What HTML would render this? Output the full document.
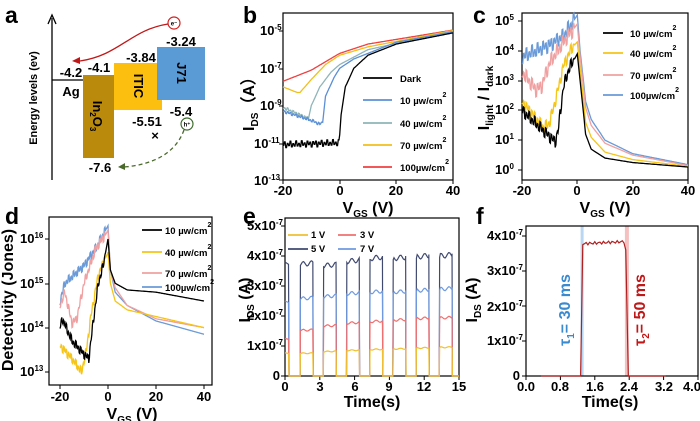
<!DOCTYPE html>
<html><head><meta charset="utf-8"><style>
html,body{margin:0;padding:0;background:#fff}
svg{display:block}
text{font-family:"Liberation Sans",Arial,sans-serif;font-weight:bold;fill:#000}
.t{font-size:13px}
.lg{font-size:9.5px}
.al{font-size:16px}
.pl{font-size:23px}
</style></head><body>
<svg id="s" width="700" height="421" viewBox="0 0 700 421" xmlns="http://www.w3.org/2000/svg">
<text class="pl" x="5" y="23">a</text>
<text class="pl" x="243" y="23">b</text>
<text class="pl" x="473" y="23">c</text>
<text class="pl" x="5" y="224">d</text>
<text class="pl" x="243" y="224">e</text>
<text class="pl" x="476" y="224">f</text>

<line x1="52" y1="180" x2="52" y2="18" stroke="#000" stroke-width="1.3"/>
<path d="M48,24 L52,15 L56,24" fill="none" stroke="#000" stroke-width="1.3"/>
<text class="t" transform="translate(37,98) rotate(-90)" text-anchor="middle" style="font-size:11px">Energy levels (ev)</text>
<line x1="52" y1="80" x2="84" y2="80" stroke="#000" stroke-width="1.2"/>
<rect x="83" y="75" width="31" height="83" fill="#b98a0c"/>
<rect x="114" y="63" width="48" height="47" fill="#fdbf0f"/>
<rect x="157" y="47" width="48" height="53" fill="#5b9bd5"/>
<text class="t" transform="translate(93,116) rotate(90)" text-anchor="middle">In<tspan font-size="8" dy="3">2</tspan><tspan dy="-3">O</tspan><tspan font-size="8" dy="3">3</tspan></text>
<text class="t" transform="translate(134,86) rotate(90)" text-anchor="middle">ITIC</text>
<text class="t" transform="translate(177,73) rotate(90)" text-anchor="middle">J71</text>
<text class="t" x="71" y="77" text-anchor="middle">-4.2</text>
<text class="t" x="71" y="96" text-anchor="middle">Ag</text>
<text class="t" x="99" y="72" text-anchor="middle">-4.1</text>
<text class="t" x="141" y="62" text-anchor="middle">-3.84</text>
<text class="t" x="181" y="46" text-anchor="middle">-3.24</text>
<text class="t" x="147" y="126" text-anchor="middle">-5.51</text>
<text class="t" x="181" y="116" text-anchor="middle">-5.4</text>
<text class="t" x="100" y="172" text-anchor="middle">-7.6</text>
<text class="t" x="155" y="140" text-anchor="middle">×</text>
<circle cx="174" cy="23" r="6" fill="#fff" stroke="#d02020" stroke-width="1.2"/>
<text x="174" y="25.5" text-anchor="middle" style="font-size:6px">e⁻</text>
<path d="M168,24 C130,30 120,55 80,61" fill="none" stroke="#c01818" stroke-width="1.3"/>
<path d="M80,57 L72,61 L80,64 Z" fill="#c01818"/>
<circle cx="187" cy="124" r="6" fill="#fff" stroke="#3a6a2a" stroke-width="1.2"/>
<text x="187" y="126.5" text-anchor="middle" style="font-size:6px">h⁺</text>
<path d="M184,130 C175,155 150,165 124,167" fill="none" stroke="#4a6a2a" stroke-width="1.3" stroke-dasharray="4,3"/>
<path d="M125,163 L118,167 L125,170 Z" fill="#4a6a2a"/>

<g id="plots"></g>

<text class="t" x="260" y="35">10<tspan font-size="8" dy="-5">-5</tspan></text>
<text class="t" x="260" y="73">10<tspan font-size="8" dy="-5">-7</tspan></text>
<text class="t" x="260" y="110">10<tspan font-size="8" dy="-5">-9</tspan></text>
<text class="t" x="254" y="148">10<tspan font-size="8" dy="-5">-11</tspan></text>
<text class="t" x="254" y="185">10<tspan font-size="8" dy="-5">-13</tspan></text>
<text class="t" x="283" y="195" text-anchor="middle">-20</text>
<text class="t" x="340" y="195" text-anchor="middle">0</text>
<text class="t" x="396" y="195" text-anchor="middle">20</text>
<text class="t" x="453" y="195" text-anchor="middle">40</text>
<text class="al" x="368" y="213" text-anchor="middle">V<tspan font-size="10" dy="4">GS</tspan><tspan dy="-4"> (V)</tspan></text>
<text class="al" transform="translate(254,100) rotate(-90)" text-anchor="middle">I<tspan font-size="10" dy="4">DS</tspan><tspan dy="-4">（A）</tspan></text>
<text class="lg" x="400" y="82">Dark</text>
<text class="lg" x="400" y="104">10 µw/cm<tspan font-size="7" dy="-7">2</tspan></text>
<text class="lg" x="400" y="127">40 µw/cm<tspan font-size="7" dy="-7">2</tspan></text>
<text class="lg" x="400" y="149">70 µw/cm<tspan font-size="7" dy="-7">2</tspan></text>
<text class="lg" x="400" y="171">100µw/cm<tspan font-size="7" dy="-7">2</tspan></text>

<text class="t" x="495" y="25">10<tspan font-size="8" dy="-5">5</tspan></text>
<text class="t" x="495" y="55">10<tspan font-size="8" dy="-5">4</tspan></text>
<text class="t" x="495" y="85">10<tspan font-size="8" dy="-5">3</tspan></text>
<text class="t" x="495" y="114">10<tspan font-size="8" dy="-5">2</tspan></text>
<text class="t" x="495" y="144">10<tspan font-size="8" dy="-5">1</tspan></text>
<text class="t" x="495" y="174">10<tspan font-size="8" dy="-5">0</tspan></text>
<text class="t" x="522" y="195" text-anchor="middle">-20</text>
<text class="t" x="577" y="195" text-anchor="middle">0</text>
<text class="t" x="633" y="195" text-anchor="middle">20</text>
<text class="t" x="688" y="195" text-anchor="middle">40</text>
<text class="al" x="605" y="213" text-anchor="middle">V<tspan font-size="10" dy="4">GS</tspan><tspan dy="-4"> (V)</tspan></text>
<text class="al" transform="translate(489,98) rotate(-90)" text-anchor="middle">I<tspan font-size="10" dy="4">light</tspan><tspan dy="-4"> / I</tspan><tspan font-size="10" dy="4">dark</tspan></text>
<text class="lg" x="630" y="37">10 µw/cm<tspan font-size="7" dy="-7">2</tspan></text>
<text class="lg" x="630" y="57">40 µw/cm<tspan font-size="7" dy="-7">2</tspan></text>
<text class="lg" x="630" y="79">70 µw/cm<tspan font-size="7" dy="-7">2</tspan></text>
<text class="lg" x="630" y="99">100µw/cm<tspan font-size="7" dy="-7">2</tspan></text>

<text class="t" x="20" y="243">10<tspan font-size="8" dy="-5">16</tspan></text>
<text class="t" x="20" y="288">10<tspan font-size="8" dy="-5">15</tspan></text>
<text class="t" x="20" y="332">10<tspan font-size="8" dy="-5">14</tspan></text>
<text class="t" x="20" y="376">10<tspan font-size="8" dy="-5">13</tspan></text>
<text class="t" x="60" y="401" text-anchor="middle">-20</text>
<text class="t" x="108" y="401" text-anchor="middle">0</text>
<text class="t" x="156" y="401" text-anchor="middle">20</text>
<text class="t" x="204" y="401" text-anchor="middle">40</text>
<text class="al" x="132" y="419" text-anchor="middle">V<tspan font-size="10" dy="4">GS</tspan><tspan dy="-4"> (V)</tspan></text>
<text class="al" transform="translate(13,300) rotate(-90)" text-anchor="middle">Detectivity (Jones)</text>
<text class="lg" x="165" y="234">10 µw/cm<tspan font-size="7" dy="-7">2</tspan></text>
<text class="lg" x="165" y="256">40 µw/cm<tspan font-size="7" dy="-7">2</tspan></text>
<text class="lg" x="165" y="277">70 µw/cm<tspan font-size="7" dy="-7">2</tspan></text>
<text class="lg" x="165" y="291">100µw/cm<tspan font-size="7" dy="-7">2</tspan></text>

<text class="t" x="283" y="230" text-anchor="end">5x10<tspan font-size="8" dy="-5">-7</tspan></text>
<text class="t" x="283" y="260" text-anchor="end">4x10<tspan font-size="8" dy="-5">-7</tspan></text>
<text class="t" x="283" y="290" text-anchor="end">3x10<tspan font-size="8" dy="-5">-7</tspan></text>
<text class="t" x="283" y="320" text-anchor="end">2x10<tspan font-size="8" dy="-5">-7</tspan></text>
<text class="t" x="283" y="350" text-anchor="end">1x10<tspan font-size="8" dy="-5">-7</tspan></text>
<text class="t" x="280" y="380" text-anchor="end">0</text>
<text class="t" x="285" y="391" text-anchor="middle">0</text>
<text class="t" x="320" y="391" text-anchor="middle">3</text>
<text class="t" x="355" y="391" text-anchor="middle">6</text>
<text class="t" x="389" y="391" text-anchor="middle">9</text>
<text class="t" x="424" y="391" text-anchor="middle">12</text>
<text class="t" x="459" y="391" text-anchor="middle">15</text>
<text class="al" x="372" y="407" text-anchor="middle">Time(s)</text>
<text class="al" transform="translate(250,300) rotate(-90)" text-anchor="middle">I<tspan font-size="10" dy="4">DS</tspan><tspan dy="-4"> (A)</tspan></text>
<text class="lg" x="311" y="238">1 V</text>
<text class="lg" x="360" y="238">3 V</text>
<text class="lg" x="311" y="252">5 V</text>
<text class="lg" x="360" y="252">7 V</text>

<text class="t" x="523" y="240" text-anchor="end">4x10<tspan font-size="8" dy="-5">-7</tspan></text>
<text class="t" x="523" y="275" text-anchor="end">3x10<tspan font-size="8" dy="-5">-7</tspan></text>
<text class="t" x="523" y="311" text-anchor="end">2x10<tspan font-size="8" dy="-5">-7</tspan></text>
<text class="t" x="523" y="345" text-anchor="end">1x10<tspan font-size="8" dy="-5">-7</tspan></text>
<text class="t" x="520" y="380" text-anchor="end">0</text>
<text class="t" x="526" y="391" text-anchor="middle">0.0</text>
<text class="t" x="560" y="391" text-anchor="middle">0.8</text>
<text class="t" x="595" y="391" text-anchor="middle">1.6</text>
<text class="t" x="629" y="391" text-anchor="middle">2.4</text>
<text class="t" x="664" y="391" text-anchor="middle">3.2</text>
<text class="t" x="692" y="391" text-anchor="middle">4.0</text>
<text class="al" x="610" y="407" text-anchor="middle">Time(s)</text>
<text class="al" transform="translate(477,300) rotate(-90)" text-anchor="middle">I<tspan font-size="10" dy="4">DS</tspan><tspan dy="-4"> (A)</tspan></text>
<text class="al" transform="translate(570,310) rotate(-90)" text-anchor="middle" style="fill:#3a8ad0">τ<tspan font-size="10" dy="4" style="fill:#3a8ad0">1</tspan><tspan dy="-4" style="fill:#3a8ad0">= 30 ms</tspan></text>
<text class="al" transform="translate(645,310) rotate(-90)" text-anchor="middle" style="fill:#c01818">τ<tspan font-size="10" dy="4" style="fill:#c01818">2</tspan><tspan dy="-4" style="fill:#c01818">= 50 ms</tspan></text>
</svg>
<script>
(function(){
var g=document.getElementById('plots'),NS='http://www.w3.org/2000/svg';
function el(t,a){var e=document.createElementNS(NS,t);for(var k in a)e.setAttribute(k,a[k]);g.appendChild(e);return e;}
function interp(p,v){if(v<=p[0][0])return p[0][1];for(var i=1;i<p.length;i++){if(v<=p[i][0]){var f=(v-p[i-1][0])/(p[i][0]-p[i-1][0]);return p[i-1][1]+f*(p[i][1]-p[i-1][1]);}}return p[p.length-1][1];}
function curve(p,X,Y,col,na,nend,seed,w){var d='',s=seed||1;for(var v=-20;v<=40.001;v+=0.25){var y=interp(p,v);if(na&&v<nend){var ph=Math.floor(v*2);y+=((ph%2)?na:-na)*(0.6+0.4*Math.sin(ph*1.7+s));}d+=(d?'L':'M')+X(v).toFixed(1)+','+Y(y).toFixed(1);}el('path',{d:d,fill:'none',stroke:col,'stroke-width':w||1.3});}
function box(x1,y1,x2,y2){el('rect',{x:x1,y:y1,width:x2-x1,height:y2-y1,fill:'none',stroke:'#000','stroke-width':1.2});}
function tk(x,y,dx,dy){el('line',{x1:x,y1:y,x2:x+dx,y2:y+dy,stroke:'#000','stroke-width':1});}
function leg(x1,x2,y,c){el('line',{x1:x1,y1:y,x2:x2,y2:y,stroke:c,'stroke-width':1.8});}
var Xb=function(v){return 283+(v+20)*170/60},Yb=function(l){return 31+(-5-l)*18.63};
box(283,13,453,180);[31,69,106,144,180].forEach(function(y){tk(283,y,-4,0)});[283,340,396,453].forEach(function(x){tk(x,180,0,4)});
curve([[-20,-7.7],[-10,-7.1],[0,-6.2],[10,-5.7],[40,-4.95]],Xb,Yb,'#f04040');
curve([[-20,-8.0],[-15,-8.3],[-14,-8.3],[-10,-7.6],[-5,-6.8],[0,-6.3],[10,-5.85],[40,-4.97]],Xb,Yb,'#f2bf1a');
curve([[-20,-9.1],[-11,-9.7],[-10,-9],[-7,-8],[-3,-7.2],[0,-6.8],[10,-6.0],[40,-5.0]],Xb,Yb,'#8fb5b8',0.08,-11,2);
curve([[-20,-9.3],[-10,-9.8],[-7,-10],[-6,-9.9],[-5,-8.5],[-2,-7.5],[0,-7],[5,-6.5],[20,-5.6],[40,-5.05]],Xb,Yb,'#5b8fd6',0.08,-6,3);
curve([[-20,-11.1],[-0.2,-11],[0.5,-9.5],[2,-8],[5,-7],[10,-6.3],[20,-5.7],[40,-5.1]],Xb,Yb,'#000',0.18,0,4);
leg(363,392,78,'#000');leg(363,392,100,'#5b8fd6');leg(363,392,123,'#8fb5b8');leg(363,392,145,'#f2bf1a');leg(363,392,167,'#f04040');
var Xc=function(v){return 522+(v+20)*166/60},Yc=function(l){return 170-l*29.8};
box(522,13,688,180);[21,51,81,110,140,170].forEach(function(y){tk(522,y,-4,0)});[522,577,633,688].forEach(function(x){tk(x,180,0,4)});
curve([[-20,3.8],[-15,4.0],[-10,4.2],[-5,4.5],[0,5.2],[1,4],[3,2.3],[5,1.7],[10,1.0],[20,0.55],[40,0.18]],Xc,Yc,'#6a9ad8',0.25,-1,1);
curve([[-20,3.3],[-15,2.7],[-13,2.8],[-10,3.6],[-5,4.3],[0,4.9],[1,3.8],[3,2.1],[5,1.5],[10,0.9],[20,0.5],[40,0.15]],Xc,Yc,'#f0a0a0',0.25,-1,2);
curve([[-20,2.3],[-12,1.4],[-10,1.6],[-8,2.3],[-5,3.5],[-2,4.1],[0,4.3],[1,3.4],[3,1.6],[5,1.1],[10,0.6],[20,0.35],[40,0.12]],Xc,Yc,'#f5c518',0.2,-1,3);
curve([[-20,2.0],[-12,1.3],[-8,0.95],[-7,1.3],[-5,2.8],[-3,3.4],[0,3.9],[1,3],[3,1.2],[5,0.7],[10,0.4],[20,0.25],[40,0.1]],Xc,Yc,'#000',0.2,-1,4);
leg(603,623,33,'#000');leg(603,623,53,'#f5c518');leg(603,623,75,'#f0a0a0');leg(603,623,95,'#6a9ad8');
var Xd=function(v){return 60+(v+20)*2.4},Yd=function(l){return 239+(16-l)*44.3};
box(49,217,212,385);[239,284,328,372].forEach(function(y){tk(49,y,-4,0)});[60,108,156,204].forEach(function(x){tk(x,385,0,4)});
curve([[-20,14.6],[-18,15.0],[-10,15.4],[-5,15.8],[0,16.3],[1,15.3],[3,14.8],[8,14.5],[20,14.15],[40,13.85]],Xd,Yd,'#6a9ad8',0.1,-1,1);
curve([[-20,14.5],[-18,14.8],[-15,14.1],[-13,14.2],[-10,15],[-5,15.8],[-1,16.1],[0,16.2],[1,15.3],[3,14.9],[8,14.5],[20,14.2],[40,14.0]],Xd,Yd,'#f0a0a0',0.1,-1,2);
curve([[-20,13.6],[-15,13.3],[-11,13.0],[-9,13.5],[-7,14.3],[-4,15.2],[0,15.7],[1,15],[3,14.6],[8,14.4],[20,14.25],[40,14.0]],Xd,Yd,'#f5c518',0.1,-1,3);
curve([[-20,14.0],[-19,14.2],[-15,13.7],[-10,13.4],[-8,13.3],[-6,14.2],[-4,15.0],[-2,15.4],[0,16.0],[1,15.3],[3,15.0],[8,14.85],[20,14.8],[40,14.6]],Xd,Yd,'#000',0.1,-1,4);
leg(142,162,230,'#000');leg(142,162,252,'#f5c518');leg(142,162,273,'#f0a0a0');leg(142,162,287,'#6a9ad8');
var Xe=function(t){return 285+t*11.6},Ye=function(i){return 376-i*30};
box(285,218,459,376);[226,256,286,316,346,376].forEach(function(y){tk(285,y,-4,0)});[0,3,6,9,12,15].forEach(function(t){tk(Xe(t),376,0,4)});
function pulses(levels,init,col){var d='M'+Xe(0)+','+Ye(init)+'L'+Xe(0.3)+','+Ye(init*0.98)+'L'+Xe(0.35)+','+Ye(0);
for(var k=0;k<7;k++){var on=1.3+2*k,off=2.4+2*k,L=levels[k];d+='L'+Xe(on)+','+Ye(0)+'L'+Xe(on+0.03)+','+Ye(L*0.97);
for(var t=on+0.1;t<off;t+=0.1){d+='L'+Xe(t).toFixed(1)+','+Ye(L*(0.98+0.03*Math.sin(t*9)*0.7+0.01*(t-on))).toFixed(1);}
d+='L'+Xe(off)+','+Ye(L)+'L'+Xe(off+0.03)+','+Ye(0);}
d+='L'+Xe(15)+','+Ye(0);el('path',{d:d,fill:'none',stroke:col,'stroke-width':1.2});}
pulses([3.8,3.75,3.9,4.0,4.0,4.05,4.08],3.8,'#404a70');
pulses([2.63,2.7,2.8,2.85,2.85,2.9,2.95],2.5,'#6f9ae0');
pulses([1.55,1.7,1.8,1.85,1.9,1.95,1.97],1.25,'#f07070');
pulses([0.77,0.83,0.87,0.9,0.92,0.95,0.97],0.77,'#f0c030');
leg(288,308,235,'#f0c030');leg(338,356,235,'#f07070');leg(288,308,249,'#404a70');leg(338,356,249,'#6f9ae0');
var Xf=function(t){return 526+t*43},Yf=function(i){return 376-i*35};
el('rect',{x:Xf(1.27),y:226,width:3,height:150,fill:'#b9d6f2'});
el('rect',{x:Xf(2.3),y:226,width:4,height:150,fill:'#f6c0c0'});
box(526,226,698,376);[236,271,306,341,376].forEach(function(y){tk(526,y,-4,0)});[0,0.8,1.6,2.4,3.2,4.0].forEach(function(t){tk(Xf(t),376,0,4)});
var d='M'+Xf(0.35)+','+Yf(0)+'L'+Xf(1.27)+','+Yf(0)+'L'+Xf(1.32)+','+Yf(3.75);
for(var t=1.36;t<2.3;t+=0.04){d+='L'+Xf(t).toFixed(1)+','+Yf(3.78+0.04*Math.sin(t*60)+0.06*(t-1.3)).toFixed(1);}
d+='L'+Xf(2.32)+','+Yf(3.6)+'L'+Xf(2.38)+','+Yf(0)+'L'+Xf(3.25)+','+Yf(0);
el('path',{d:d,fill:'none',stroke:'#b02020','stroke-width':1.2});
})();
</script>
</body></html>
